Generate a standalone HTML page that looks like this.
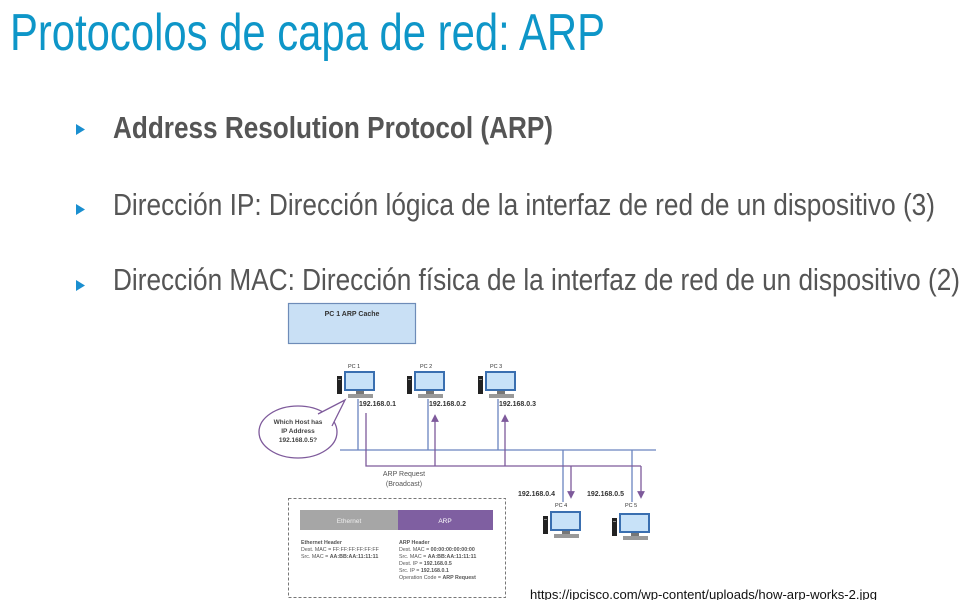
<!DOCTYPE html>
<html><head><meta charset="utf-8"><style>
html,body{margin:0;padding:0;background:#fff;}
svg{display:block;}
</style></head><body>
<svg width="977" height="600" viewBox="0 0 977 600" xmlns="http://www.w3.org/2000/svg" font-family="Liberation Sans, Arial, sans-serif">
<rect width="977" height="600" fill="#fff"/>
<text x="10" y="50" font-size="52" fill="#0E96C8" textLength="595" lengthAdjust="spacingAndGlyphs">Protocolos de capa de red: ARP</text>
<g fill="#1A8FD0">
<polygon points="76,124 76,135 85,129.5"/>
<polygon points="76,204 76,215 85,209.5"/>
<polygon points="76,280 76,291 85,285.5"/>
</g>
<text x="113" y="138" font-size="31" font-weight="bold" fill="#555" textLength="440" lengthAdjust="spacingAndGlyphs">Address Resolution Protocol (ARP)</text>
<text x="113" y="215" font-size="31" fill="#555" textLength="822" lengthAdjust="spacingAndGlyphs">Dirección IP: Dirección lógica de la interfaz de red de un dispositivo (3)</text>
<text x="113" y="290" font-size="31" fill="#555" textLength="847" lengthAdjust="spacingAndGlyphs">Dirección MAC: Dirección física de la interfaz de red de un dispositivo (2)</text>

<rect x="288.5" y="303.5" width="127" height="40" fill="#C9E0F5" stroke="#6E8CB8" stroke-width="1.2"/>
<text x="352" y="316" font-size="7" font-weight="bold" fill="#333" text-anchor="middle">PC 1  ARP Cache</text>

<defs>
<g id="pc">
<rect x="0" y="5" width="5" height="18" fill="#222"/>
<rect x="1" y="8" width="3" height="1" fill="#888"/>
<rect x="7" y="0" width="31" height="20" fill="#3A6FB0"/>
<rect x="9" y="2" width="27" height="16" fill="#C8E2F8"/>
<rect x="19" y="20" width="8" height="3" fill="#777"/>
<rect x="11" y="23" width="25" height="4" fill="#999"/>
</g>
<marker id="ah" markerWidth="6" markerHeight="6" refX="3" refY="3" orient="auto"><path d="M0,0 L6,3 L0,6 z" fill="#7E5A9B"/></marker>
</defs>
<g font-size="5.5" fill="#333">
<text x="348" y="368">PC 1</text><text x="420" y="368">PC 2</text><text x="490" y="368">PC 3</text>
<text x="555" y="507">PC 4</text><text x="625" y="507">PC 5</text>
</g>
<use href="#pc" x="337" y="371"/>
<use href="#pc" x="407" y="371"/>
<use href="#pc" x="478" y="371"/>
<use href="#pc" x="543" y="511"/>
<use href="#pc" x="612" y="513"/>
<g font-size="7" font-weight="bold" fill="#333">
<text x="359" y="406">192.168.0.1</text>
<text x="429" y="406">192.168.0.2</text>
<text x="499" y="406">192.168.0.3</text>
<text x="518" y="496">192.168.0.4</text>
<text x="587" y="496">192.168.0.5</text>
</g>
<g stroke="#6A84BF" stroke-width="1.3" fill="none">
<line x1="358" y1="399" x2="358" y2="450"/>
<line x1="428" y1="399" x2="428" y2="450"/>
<line x1="498" y1="399" x2="498" y2="450"/>
<line x1="340" y1="450" x2="656" y2="450"/>
<line x1="563" y1="450" x2="563" y2="502"/>
<line x1="632" y1="450" x2="632" y2="502"/>
</g>
<g stroke="#7E5A9B" stroke-width="1.3" fill="none">
<polyline points="366,413 366,466 641,466"/>
<line x1="435" y1="466" x2="435" y2="418" marker-end="url(#ah)"/>
<line x1="505" y1="466" x2="505" y2="418" marker-end="url(#ah)"/>
<line x1="571" y1="466" x2="571" y2="495" marker-end="url(#ah)"/>
<line x1="641" y1="466" x2="641" y2="495" marker-end="url(#ah)"/>
</g>
<ellipse cx="298" cy="432" rx="39" ry="26" fill="#fff" stroke="#7E5A9B" stroke-width="1.3"/>
<polygon points="318,414 345,400 332,426" fill="#fff"/>
<polyline points="318,414 345,400 332,426" fill="none" stroke="#7E5A9B" stroke-width="1.3"/>
<g font-size="6.5" font-weight="bold" fill="#444" text-anchor="middle">
<text x="298" y="424">Which Host has</text>
<text x="298" y="433">IP Address</text>
<text x="298" y="442">192.168.0.5?</text>
</g>
<g font-size="7" fill="#555" text-anchor="middle">
<text x="404" y="476">ARP Request</text>
<text x="404" y="486">(Broadcast)</text>
</g>
<rect x="288.5" y="498.5" width="217" height="99" fill="none" stroke="#777" stroke-dasharray="3,2"/>
<rect x="300" y="510" width="98" height="20" fill="#A6A6A6"/>
<rect x="398" y="510" width="95" height="20" fill="#7F5FA1"/>
<text x="349" y="523" font-size="6.5" fill="#eee" text-anchor="middle">Ethernet</text>
<text x="445" y="523" font-size="6.5" fill="#fff" text-anchor="middle">ARP</text>
<g font-size="5.3" fill="#555">
<text x="301" y="544" font-weight="bold">Ethernet Header</text>
<text x="301" y="551">Dest. MAC = FF:FF:FF:FF:FF:FF</text>
<text x="301" y="558">Src. MAC = <tspan font-weight="bold">AA:BB:AA:11:11:11</tspan></text>
<text x="399" y="544" font-weight="bold">ARP Header</text>
<text x="399" y="551">Dest. MAC = <tspan font-weight="bold">00:00:00:00:00:00</tspan></text>
<text x="399" y="558">Src. MAC = <tspan font-weight="bold">AA:BB:AA:11:11:11</tspan></text>
<text x="399" y="565">Dest. IP = <tspan font-weight="bold">192.168.0.5</tspan></text>
<text x="399" y="572">Src. IP = <tspan font-weight="bold">192.168.0.1</tspan></text>
<text x="399" y="579">Operation Code = <tspan font-weight="bold">ARP Request</tspan></text>
</g>
<text x="530" y="599" font-size="12.5" fill="#111" textLength="347" lengthAdjust="spacingAndGlyphs">https://ipcisco.com/wp-content/uploads/how-arp-works-2.jpg</text>
</svg>
</body></html>
